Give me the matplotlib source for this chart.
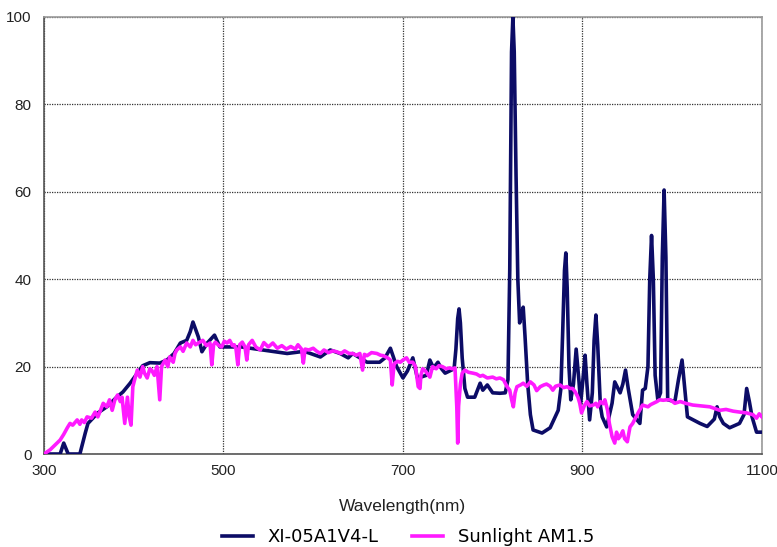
import numpy as np
import matplotlib.pyplot as plt

# lamp spectrum (XI-05A1V4-L)
lamp_wl = [300, 318, 322, 327, 340, 346, 349, 360, 370, 381, 388, 396, 404, 410, 418,
           429, 437, 445, 452, 459, 463, 466, 469, 472, 476, 482, 490, 496, 507, 520, 544, 571,
           590, 608, 619, 630, 639, 644, 652, 660, 674, 680, 686, 693, 700, 705, 711,
           716, 720, 726, 730, 734, 739, 743, 747, 752, 757, 759, 761, 762.5, 764, 766, 769, 772, 780, 786,
           789, 794, 800, 808, 814, 817, 819, 821, 822.5, 824, 826, 828, 830, 832, 834, 836, 839, 842, 845, 855,
           864, 873, 876, 878, 880, 881.5, 883, 885, 887, 890, 893, 896, 898, 901, 903, 905, 908, 911, 913, 915, 917, 920, 922, 927, 933, 936, 942,
           945, 948, 951, 956, 964, 967, 970, 973, 975, 977, 979, 981, 984, 987, 989, 991, 993, 995, 1003, 1007, 1011, 1014, 1017, 1031, 1039,
           1047, 1050, 1053, 1057, 1064, 1075, 1080, 1083, 1086, 1089, 1094, 1100]
lamp_val = [0, 0, 2.5, 0, 0, 4.8, 7, 9.4, 10.8, 13, 14.2, 16.2, 18.5, 20.2, 20.9,
            20.8, 21.5, 23, 25.4, 26, 28, 30.2, 28.5, 26.8, 23.4, 25.4, 27.2, 24.5, 24.5, 24.5, 23.8, 23,
            23.5, 22.2, 23.8, 23, 22, 23, 22, 21, 21, 22, 24.2, 20, 17.4, 19, 22,
            17.5, 17.6, 18, 21.5, 19.7, 21, 19.5, 18.5, 19, 19.5, 24, 31, 33.2, 30, 22, 15, 13, 13, 16.2,
            14.6, 15.8, 14, 13.9, 14, 17, 42, 92, 100, 92, 64, 40, 30, 32, 33.6, 27, 16, 9, 5.5, 4.8,
            6, 10, 15, 28, 42, 46, 38, 20, 12.4, 16, 24, 17, 11.6, 18, 22.6, 16, 7.8, 14, 26, 31.8, 25, 11, 8.5, 6.2, 11.6, 16.5, 14,
            16, 19.2, 15, 9, 7, 14.6, 15, 20, 40, 50, 40, 18, 12.4, 14, 45, 60.4, 45, 12.4, 12, 17, 21.5, 15, 8.5, 7, 6.3,
            8, 10.8, 8.5, 7, 6, 7, 9, 15, 12, 8.5, 5, 5]

# sunlight AM1.5
sun_wl = [300, 307, 312, 318, 322, 326, 329, 332, 337, 340, 342, 345, 348, 353, 357,
          360, 363, 366, 370, 373, 376, 379, 382, 385, 387, 390, 393, 395, 397, 399,
          401, 404, 407, 410, 412, 415, 418, 420, 423, 426, 429, 431, 435, 438, 440,
          444, 446, 448, 452, 455, 459, 463, 466, 469, 472, 477, 481, 485, 487, 489,
          491, 495, 498, 501, 504, 507, 510, 512, 514, 516, 518, 521, 524, 526, 528,
          532, 536, 541, 545, 550, 555, 560, 565, 570, 575, 580, 583, 587, 589, 591,
          595, 600, 604, 608, 612, 617, 622, 626, 631, 635, 640, 644, 648, 652, 655,
          657, 660, 665, 671, 675, 678, 683, 686, 688, 690, 691, 694, 697, 700, 704,
          707, 711, 714, 716, 717, 719, 720, 722, 725, 730, 733, 737, 740, 744, 748,
          752, 755, 758, 760, 761, 762, 764, 766, 769, 773, 778, 782, 786, 789, 794,
          800, 804, 808, 812, 816, 819, 821, 823, 825, 827, 831, 834, 838, 842, 846,
          849, 853, 857, 860, 864, 867, 870, 875, 879, 883, 886, 889, 892, 895, 897,
          899, 902, 905, 908, 912, 915, 917, 920, 923, 925, 928, 930, 933, 936, 938,
          940, 942, 945, 947, 950, 953, 956, 959, 962, 965, 967, 970, 973, 976, 979,
          983, 986, 990, 994, 998, 1003, 1009, 1015, 1023, 1032, 1042, 1053, 1060, 1068, 1075,
          1083, 1090, 1094, 1097, 1100]
sun_val = [0, 1, 2, 3.2, 4.5, 6, 7, 6.6, 7.8, 6.8, 7.8, 7.2, 8.5, 8.2, 9.6,
           8.5, 10, 11.6, 10.8, 12.4, 10, 12.4, 13.5, 12, 13, 7, 13, 8.5, 6.6, 15.4,
           17, 19.2, 17.6, 20, 18.5, 17.4, 19.5, 19.2, 18, 20, 12.4, 20, 21.5, 20, 22.2,
           21, 23, 23.8, 24.5, 23.5, 25.4, 24.5, 26, 25, 25.4, 26, 24.8, 25.4, 20.4, 25,
           25.6, 24.8, 24.5, 25.8, 25.4, 26, 24.8, 25, 24, 20.4, 25, 25.6, 24.5, 21.5, 25,
           26, 24.5, 23.8, 25.5, 24.5, 25.4, 24.2, 24.8, 24, 24.6, 24, 25, 24, 20.8, 24,
           23.8, 24.2, 23.5, 23, 23.8, 23.2, 23.6, 23.4, 23, 23.6, 23, 23, 22.6, 23, 19.2,
           22.8, 22.5, 23.2, 23, 22.6, 22.5, 22, 21.5, 15.8, 20.4, 20.8, 21.2, 21, 21.5, 22,
           21, 21, 20, 17, 15.4, 15, 18, 19.5, 19, 17.6, 20, 19.5, 20.2, 20, 19.5,
           19.7, 19.5, 19.7, 10.8, 2.5, 11, 16, 18.5, 19.2, 18.7, 18.5, 18.3, 17.8, 18, 17.4,
           17.6, 17.2, 17.4, 17, 15.4, 14.6, 12.5, 10.8, 14, 15.4, 15.8, 16.2, 15.5, 16.5, 15.8,
           14.5, 15.4, 15.8, 16, 15.5, 14.6, 15.5, 15.8, 15.2, 15.4, 15, 15, 14.2, 13, 11.6,
           9.4, 11, 12, 11, 11.2, 11.6, 10.8, 12, 11.5, 12.4, 10, 7, 4, 2.5, 5,
           3.5, 4, 5.3, 3.5, 2.8, 6.2, 7, 8.2, 9.4, 10.5, 11.2, 11, 10.8, 11.3, 11.6,
           12, 12.4, 12.3, 12.4, 12.4, 11.6, 12, 11.6, 11.2, 11, 10.8, 10, 10.2, 9.8, 9.6,
           9.4, 9, 8.2, 9.2, 8.5]

xticks = [300, 500, 700, 900, 1100]
yticks = [0, 20, 40, 60, 80, 100]

fig = plt.figure(figsize=(7.77, 5.47), dpi=100)
ax = fig.add_axes([0.0566, 0.170, 0.924, 0.799])

ax.plot(lamp_wl, lamp_val, color='#0c0c66', lw=2.6, label='XI-05A1V4-L', zorder=3,
        solid_joinstyle='round')
ax.plot(sun_wl, sun_val, color='#ff1aff', lw=2.6, label='Sunlight AM1.5', zorder=4,
        solid_joinstyle='round')

ax.set_xlim(300, 1100)
ax.set_ylim(0, 100)
ax.set_xticks(xticks)
ax.set_yticks(yticks)
ax.tick_params(length=0, labelsize=11, colors='#222222')
ax.tick_params(axis='y', pad=9)
ax.tick_params(axis='x', pad=7)
for lab in ax.get_xticklabels() + ax.get_yticklabels():
    lab.set_fontfamily('Liberation Sans')

ax.grid(True, color='#333333', linestyle=(0, (1, 1)), lw=0.9)
ax.set_axisbelow(True)

for side in ['top', 'right']:
    ax.spines[side].set_color('#999999')
    ax.spines[side].set_linewidth(1.2)
for side in ['left', 'bottom']:
    ax.spines[side].set_color('#555555')
    ax.spines[side].set_linewidth(1.2)

ax.set_xlabel('Wavelength(nm)', fontsize=12.5, family='Liberation Sans', color='#222222', labelpad=15)

fig.legend(loc='lower center', bbox_to_anchor=(0.525, -0.028), ncol=2, frameon=False,
           fontsize=13, handlelength=1.7, columnspacing=1.9, handletextpad=0.8)

plt.savefig('out.png', dpi=100)
